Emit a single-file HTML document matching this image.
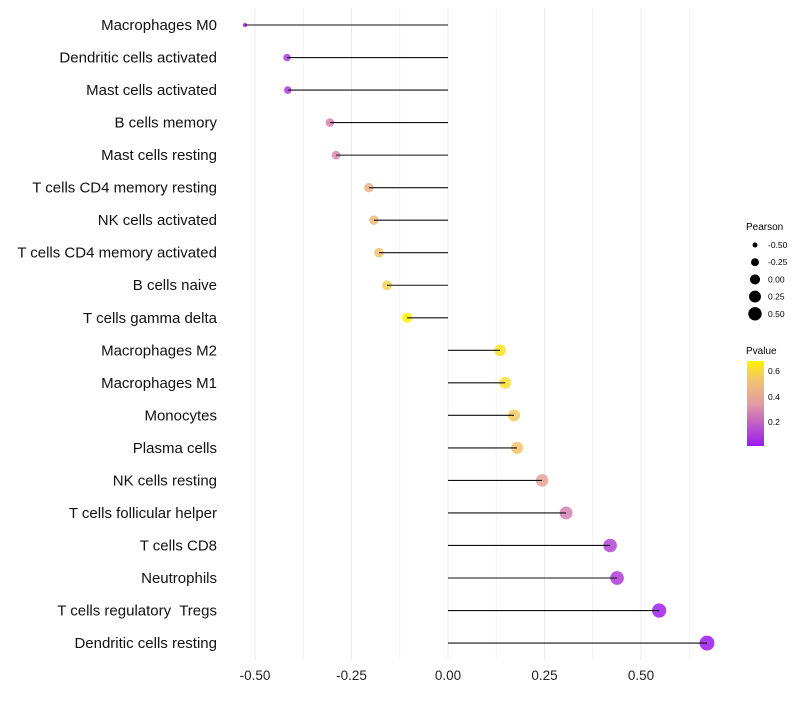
<!DOCTYPE html>
<html><head><meta charset="utf-8"><style>
body{margin:0;background:#fff;font-family:"Liberation Sans",sans-serif}
svg text{font-family:"Liberation Sans",sans-serif}
</style></head><body>
<svg id="chart" width="800" height="700" xmlns="http://www.w3.org/2000/svg">
<defs><linearGradient id="pg" x1="0" y1="1" x2="0" y2="0">
<stop offset="0" stop-color="#9b1af0"/><stop offset="0.5" stop-color="#e39ca0"/><stop offset="0.78" stop-color="#f2c46e"/><stop offset="1" stop-color="#fff200"/></linearGradient></defs>
<g id="grid"></g>
<g id="marks"></g>
<g id="labels"></g>
<g id="xticks"></g>
<g id="sizeLeg">
<text x="746" y="230" font-size="10">Pearson</text>
</g>
<g>
<text x="746" y="354" font-size="10">Pvalue</text>
<rect x="747" y="361" width="17" height="85" fill="url(#pg)"/>
<text x="768" y="374" font-size="8.5">0.6</text>
<text x="768" y="400" font-size="8.5">0.4</text>
<text x="768" y="425" font-size="8.5">0.2</text>
</g>
</svg>
<script>
const categories=["Macrophages M0","Dendritic cells activated","Mast cells activated","B cells memory","Mast cells resting","T cells CD4 memory resting","NK cells activated","T cells CD4 memory activated","B cells naive","T cells gamma delta","Macrophages M2","Macrophages M1","Monocytes","Plasma cells","NK cells resting","T cells follicular helper","T cells CD8","Neutrophils","T cells regulatory\u00a0 Tregs","Dendritic cells resting"];
const pearson=[-0.526,-0.417,-0.415,-0.306,-0.29,-0.205,-0.192,-0.179,-0.158,-0.106,0.135,0.148,0.171,0.179,0.244,0.306,0.42,0.438,0.547,0.671];
const pvalue=[0.05,0.1,0.1,0.28,0.3,0.45,0.48,0.52,0.57,0.678,0.63,0.61,0.55,0.53,0.37,0.28,0.12,0.1,0.03,0.012];
const xTicks=[-0.5,-0.25,0,0.25,0.5];
const xTickLabels=["-0.50","-0.25","0.00","0.25","0.50"];
const sizeLegendVals=[-0.5,-0.25,0,0.25,0.5];
const sizeLegendLabels=["-0.50","-0.25","0.00","0.25","0.50"];
const NS="http://www.w3.org/2000/svg";
const xs=v=>448+v*386;
const ys=i=>25+i*32.53;
const pmin=0.012,pmax=0.678;
const rs=v=>v<-0.5?2.2:Math.sqrt(Math.max(5,30+38*v));
const stops=[[0,[155,26,240]],[0.5,[227,156,160]],[0.78,[242,196,110]],[1,[255,242,0]]];
function col(p){let t=Math.max(0,Math.min(1,(p-pmin)/(pmax-pmin)));for(let k=1;k<stops.length;k++){if(t<=stops[k][0]){const a=stops[k-1],b=stops[k],f=(t-a[0])/(b[0]-a[0]);return`rgb(${a[1].map((c,j)=>Math.round(c+f*(b[1][j]-c))).join(",")})`;}}return"rgb(255,242,0)";}
function mk(tag,attrs,parent){const e=document.createElementNS(NS,tag);for(const k in attrs)e.setAttribute(k,attrs[k]);parent.appendChild(e);return e;}
const grid=document.getElementById('grid');
for(let g=-0.5;g<=0.626;g+=0.125){const l=mk('line',{x1:xs(g),x2:xs(g),y1:8,y2:660,stroke:(Math.abs(g*4-Math.round(g*4))<1e-6)?'#ebebeb':'#f4f4f4','stroke-width':1},grid);

}
const marks=document.getElementById('marks'),labels=document.getElementById('labels');
categories.forEach((c,i)=>{const y=ys(i);
const pt=mk('circle',{cx:xs(pearson[i]),cy:y,r:rs(pearson[i]),fill:col(pvalue[i]),'fill-opacity':0.85},marks);


const sg=mk('line',{x1:xs(0),x2:xs(pearson[i]),y1:y,y2:y,stroke:'#111','stroke-width':1.1},marks);


const t=mk('text',{x:217,y:y+5,'font-size':15,'text-anchor':'end',fill:'#111'},labels);t.textContent=c;

});
const xt=document.getElementById('xticks');
xTicks.forEach((v,i)=>{const t=mk('text',{x:xs(v),y:680,'font-size':13.5,'text-anchor':'middle',fill:'#222'},xt);t.textContent=xTickLabels[i];

});
const sl=document.getElementById('sizeLeg');
sizeLegendVals.forEach((v,i)=>{const y=245+i*17.2;
const c=mk('circle',{cx:755,cy:y,r:Math.sqrt(6+39*(v+0.5)),fill:'#000'},sl);


const t=mk('text',{x:768,y:y+3,'font-size':8.5},sl);t.textContent=sizeLegendLabels[i];

});
</script>
</body></html>
